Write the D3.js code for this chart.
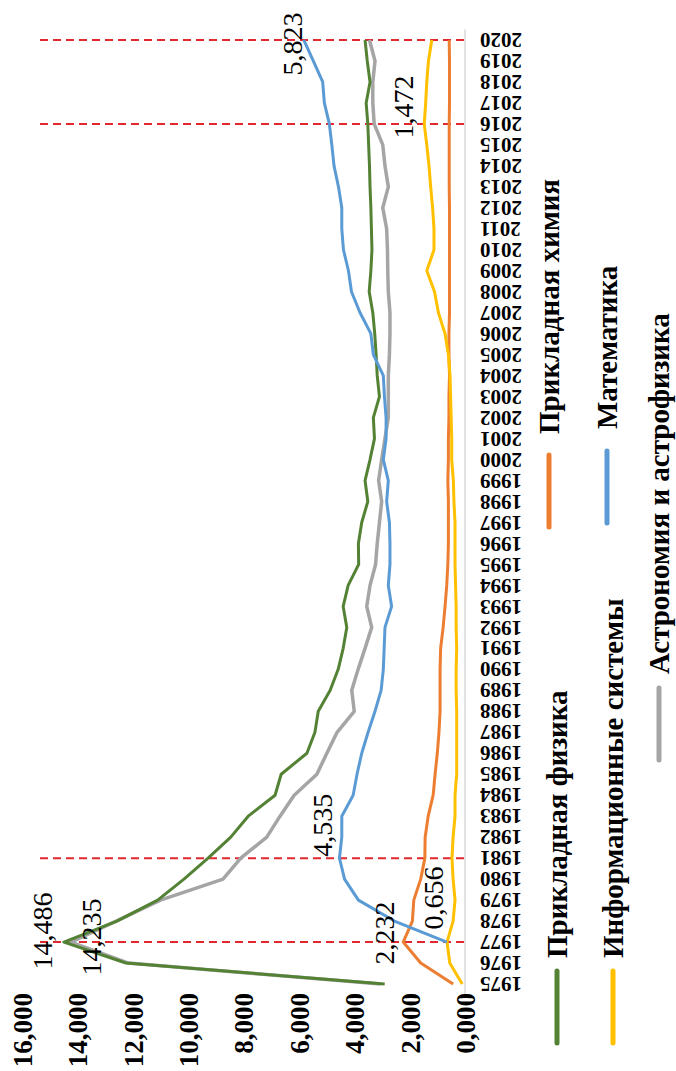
<!DOCTYPE html>
<html>
<head>
<meta charset="utf-8">
<script src="https://cdn.jsdelivr.net/npm/d3@7/dist/d3.min.js"></script>
<style>
  body { margin: 0; background: #fff; }
  svg { display: block; }
  text { font-family: "Liberation Serif", serif; fill: #000; }
</style>
</head>
<body>
<svg id="chart" width="676" height="1071"></svg>
<script>
const years = [1975, 1976, 1977, 1978, 1979, 1980, 1981, 1982, 1983, 1984,
  1985, 1986, 1987, 1988, 1989, 1990, 1991, 1992, 1993, 1994,
  1995, 1996, 1997, 1998, 1999, 2000, 2001, 2002, 2003, 2004,
  2005, 2006, 2007, 2008, 2009, 2010, 2011, 2012, 2013, 2014,
  2015, 2016, 2017, 2018, 2019, 2020];

const seriesNames = ["Прикладная физика", "Прикладная химия", "Информационные системы",
  "Математика", "Астрономия и астрофизика"];

const physics = [2.90, 12.25, 14.486, 12.57, 11.10, 10.15, 9.28, 8.46, 7.83, 6.86,
  6.64, 5.71, 5.42, 5.30, 4.87, 4.58, 4.40, 4.27, 4.40, 4.22,
  3.84, 3.85, 3.73, 3.51, 3.61, 3.43, 3.27, 3.31, 3.09, 3.17,
  3.21, 3.26, 3.33, 3.46, 3.40, 3.36, 3.38, 3.40, 3.43, 3.45,
  3.48, 3.51, 3.57, 3.43, 3.53, 3.61];

const chemistry = [0.43, 1.60, 2.232, 1.90, 1.85, 1.60, 1.45, 1.44, 1.33, 1.15,
  1.08, 1.00, 0.94, 0.90, 0.90, 0.90, 0.88, 0.79, 0.72, 0.66,
  0.62, 0.60, 0.60, 0.60, 0.62, 0.60, 0.60, 0.58, 0.58, 0.56,
  0.58, 0.58, 0.56, 0.56, 0.56, 0.56, 0.56, 0.56, 0.57, 0.57,
  0.57, 0.57, 0.56, 0.56, 0.56, 0.57];

const infoSystems = [0.10, 0.55, 0.65, 0.43, 0.36, 0.43, 0.47, 0.43, 0.36, 0.36,
  0.30, 0.30, 0.30, 0.30, 0.32, 0.32, 0.30, 0.32, 0.32, 0.34,
  0.36, 0.36, 0.36, 0.40, 0.42, 0.48, 0.48, 0.50, 0.52, 0.54,
  0.60, 0.72, 0.96, 1.10, 1.38, 1.12, 1.12, 1.17, 1.24, 1.30,
  1.38, 1.472, 1.42, 1.38, 1.32, 1.20];

const mathematics = [null, null, 0.656, 2.55, 3.85, 4.35, 4.535, 4.45, 4.45, 4.04,
  3.90, 3.73, 3.50, 3.25, 3.03, 2.95, 2.92, 2.89, 2.65, 2.77,
  2.71, 2.71, 2.73, 2.83, 2.77, 2.95, 2.85, 2.85, 2.91, 2.95,
  3.31, 3.40, 3.79, 4.10, 4.21, 4.39, 4.45, 4.45, 4.57, 4.73,
  4.81, 4.90, 5.08, 5.14, 5.48, 5.823];

const astronomy = [3.05, 12.15, 14.235, 12.60, 11.00, 8.74, 8.10, 7.16, 6.68, 6.17,
  5.35, 4.99, 4.62, 4.00, 4.09, 3.86, 3.61, 3.37, 3.55, 3.43,
  3.23, 3.17, 3.09, 3.01, 3.12, 3.01, 2.89, 2.77, 2.77, 2.77,
  2.73, 2.71, 2.71, 2.77, 2.79, 2.80, 2.83, 2.97, 2.77, 2.89,
  2.97, 3.28, 3.33, 3.33, 3.25, 3.45];

const valueTicks = [0, 2, 4, 6, 8, 10, 12, 14, 16];
const markedYears = [1977, 1981, 2016, 2020];

// which points get a value label: [series index, year]
const labelPoints = [[0, 1977], [4, 1977], [1, 1977], [3, 1977], [3, 1981], [3, 2020], [2, 2016]];

const seriesValues = [physics, chemistry, infoSystems, mathematics, astronomy];
const colors = ["#548235", "#ED7D31", "#FFC000", "#5B9BD5", "#A5A5A5"];
const serif = "'Liberation Serif', 'Times New Roman', serif";

// chart is drawn turned a quarter turn: years run bottom -> top, values right -> left
const svg = d3.select("#chart");
const x = d3.scaleLinear().domain([0, 16]).range([465, 22]);
const y = d3.scalePoint().domain(years).range([994.5, 29.5]).padding(0.5);

const ru = d3.formatLocale({ decimal: ",", thousands: " ", grouping: [3], currency: ["", ""] });
const fmt = ru.format(".3f");

// category axis line
svg.append("line")
  .attr("x1", x(0)).attr("x2", x(0))
  .attr("y1", y.range()[1]).attr("y2", y.range()[0])
  .attr("stroke", "#d9d9d9").attr("stroke-width", 1.5);

// year labels (upside down)
const yAxis = svg.append("g")
  .attr("transform", `translate(${x(0)},0)`)
  .call(d3.axisRight(y).tickSize(0).tickPadding(0));
yAxis.select(".domain").remove();
yAxis.selectAll("text")
  .attr("x", 0)
  .attr("dy", "0.35em")
  .attr("text-anchor", "end")
  .attr("transform", "translate(15,0) rotate(180)")
  .style("font-family", serif)
  .style("font-size", "21px")
  .style("font-weight", "bold");

// value labels
const xAxis = svg.append("g")
  .attr("transform", "translate(0,993)")
  .call(d3.axisBottom(x).tickValues(valueTicks).tickFormat(fmt).tickSize(0).tickPadding(0));
xAxis.select(".domain").remove();
xAxis.selectAll("text")
  .attr("y", 0)
  .attr("dy", "0.35em")
  .attr("text-anchor", "end")
  .attr("transform", "rotate(-90)")
  .style("font-family", serif)
  .style("font-size", "27px")
  .style("font-weight", "bold");

// red dashed markers
svg.selectAll(".marker")
  .data(markedYears)
  .join("line")
  .attr("class", "marker")
  .attr("x1", 40).attr("x2", x(0))
  .attr("y1", d => y(d)).attr("y2", d => y(d))
  .attr("stroke", "#E0282E")
  .attr("stroke-width", 2)
  .attr("stroke-dasharray", "8,5");

const line = d3.line()
  .defined(d => d != null)
  .x(d => x(d))
  .y((d, i) => y(years[i]));

// draw order: gray under the others
[4, 0, 1, 2, 3].forEach(s => {
  svg.append("path")
    .attr("fill", "none")
    .attr("stroke", colors[s])
    .attr("stroke-width", s === 4 ? 3.5 : 3)
    .attr("stroke-linejoin", "round")
    .attr("d", line(seriesValues[s]));
});

// data labels, offsets from the point
const labelOffsets = [[-22, -11], [20, -5], [-19, -9], [-14, -44], [-17, -33], [-12, 4], [-21, -17]];
labelPoints.forEach(([s, yr], i) => {
  const v = seriesValues[s][years.indexOf(yr)];
  const px = x(v) + labelOffsets[i][0];
  const py = y(yr) + labelOffsets[i][1];
  svg.append("text")
    .attr("transform", `translate(${px},${py}) rotate(-90)`)
    .attr("text-anchor", "middle")
    .attr("dy", "0.35em")
    .style("font-family", serif)
    .style("font-size", "28px")
    .text(fmt(v));
});

// legend: marker bottom end and where the text starts
const legendPos = [
  { x: 557, y: 1043, t: 958 },
  { x: 549, y: 527, t: 434 },
  { x: 613, y: 1043, t: 958 },
  { x: 607, y: 523, t: 429 },
  { x: 659, y: 760, t: 674 }
];
seriesNames.forEach((name, i) => {
  const p = legendPos[i];
  svg.append("line")
    .attr("x1", p.x).attr("x2", p.x)
    .attr("y1", p.y).attr("y2", p.y - 72)
    .attr("stroke", colors[i])
    .attr("stroke-width", 5)
    .attr("stroke-linecap", "round");
  svg.append("text")
    .attr("transform", `translate(${p.x},${p.t}) rotate(-90)`)
    .attr("dy", "0.35em")
    .style("font-family", serif)
    .style("font-size", "29px")
    .style("font-weight", "bold")
    .text(name);
});
</script>
</body>
</html>
